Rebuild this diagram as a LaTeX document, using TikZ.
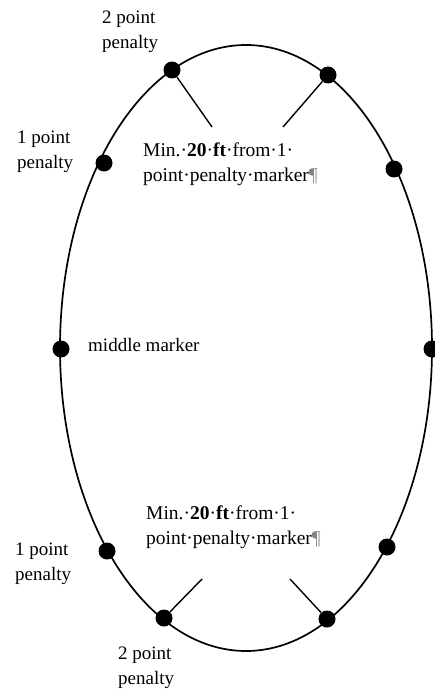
\documentclass[tikz,border=0pt]{standalone}
\usepackage{fontspec}
\setmainfont{Liberation Serif}

\tikzset{
	markerdot/.style={circle, fill=black, inner sep=0pt, minimum size=17pt},
	penaltytext/.style={anchor=west, align=left, inner sep=0pt, font=\fontsize{19}{25}\selectfont},
	ruletext/.style={anchor=west, align=left, inner sep=0pt, font=\fontsize{19.5}{25}\selectfont}
}

\begin{document}
\begin{tikzpicture}[x=1pt, y=-1pt]
	\useasboundingbox (0,0) rectangle (434,690);
	\draw[line width=1.7pt] (246,348) ellipse [x radius=186, y radius=303];
	\node[markerdot] (twotl) at (172,70) {};
	\node[markerdot] (twotr) at (328,75) {};
	\node[markerdot] (onetl) at (104,163) {};
	\node[markerdot] (onetr) at (394,169) {};
	\node[markerdot] (midl) at (61,349) {};
	\node[markerdot] (midr) at (432,349) {};
	\node[markerdot] (onebl) at (107,551) {};
	\node[markerdot] (onebr) at (387,547) {};
	\node[markerdot] (twobl) at (164,618) {};
	\node[markerdot] (twobr) at (327,619) {};
	\coordinate (tlend) at (212,127);
	\coordinate (trend) at (283,127);
	\coordinate (blend) at (202,579);
	\coordinate (brend) at (290,579);
	\draw[line width=1.4pt] (twotl) -- (tlend);
	\draw[line width=1.4pt] (twotr) -- (trend);
	\draw[line width=1.4pt] (twobl) -- (blend);
	\draw[line width=1.4pt] (twobr) -- (brend);
	\node[penaltytext] (twotop) at (102,32) {2 point\\penalty};
	\node[penaltytext] (oneup) at (17,152) {1 point\\penalty};
	\node[penaltytext] (middle) at (88,345) {middle marker};
	\node[penaltytext] (onelow) at (15,564) {1 point\\penalty};
	\node[penaltytext] (twobot) at (118,668) {2 point\\penalty};
	\node[ruletext] (minup) at (143,164) {Min.·\textbf{20}·\textbf{ft}·from·1·\\point·penalty·marker{\color{gray}¶}};
	\node[ruletext] (minlow) at (146,527) {Min.·\textbf{20}·\textbf{ft}·from·1·\\point·penalty·marker{\color{gray}¶}};
\end{tikzpicture}
\end{document}
